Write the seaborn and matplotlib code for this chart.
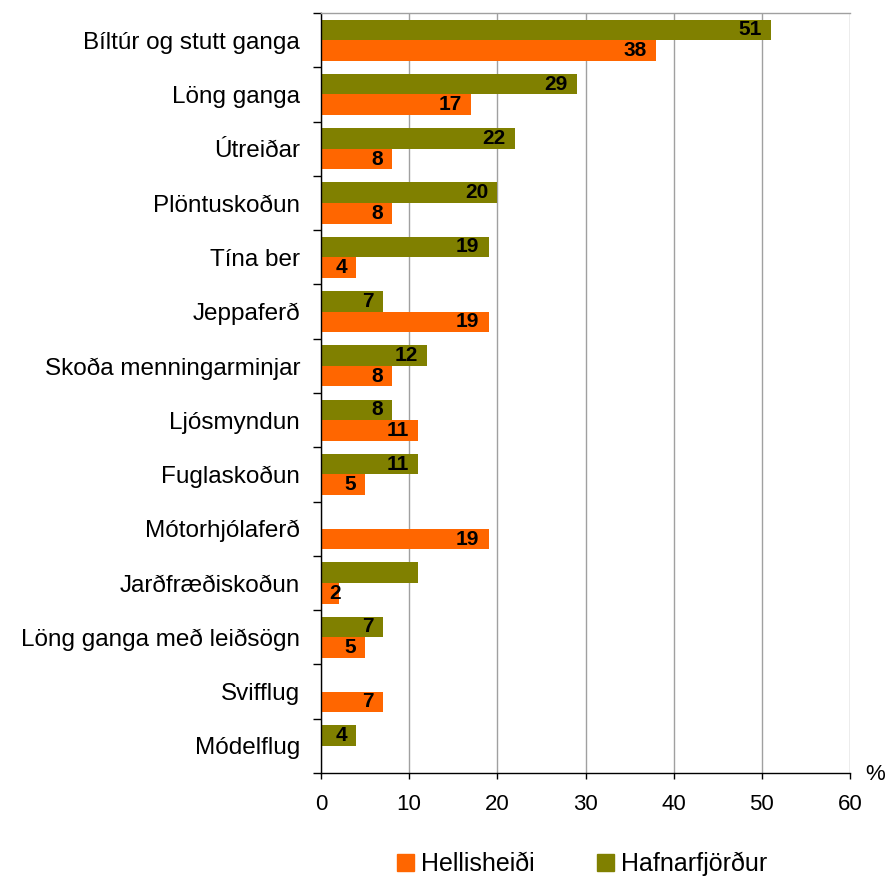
import matplotlib
matplotlib.use("Agg")
import matplotlib.pyplot as plt
import seaborn as sns
import pandas as pd
import numpy as np
from matplotlib.patches import Patch

categories = ["Bíltúr og stutt ganga", "Löng ganga", "Útreiðar", "Plöntuskoðun",
              "Tína ber", "Jeppaferð", "Skoða menningarminjar", "Ljósmyndun",
              "Fuglaskoðun", "Mótorhjólaferð", "Jarðfræðiskoðun",
              "Löng ganga með leiðsögn", "Svifflug", "Módelflug"]
hafnarfjordur = [51, 29, 22, 20, 19, 7, 12, 8, 11, 0, 11, 7, 0, 4]
hellisheidi = [38, 17, 8, 8, 4, 19, 8, 11, 5, 19, 2, 5, 7, 0]
hafn_label_shown = [True, True, True, True, True, True, True, True, True, False, False, True, False, True]
hell_label_shown = [True, True, True, True, True, True, True, True, True, True, True, True, True, False]
series = ["Hafnarfjörður", "Hellisheiði"]
colors = {"Hafnarfjörður": "#808000", "Hellisheiði": "#FF6600"}
xticks = [0, 10, 20, 30, 40, 50, 60]

sns.set_theme(style="white")
plt.rcParams['font.family'] = ['Liberation Sans', 'DejaVu Sans']
plt.rcParams['text.color'] = 'black'
plt.rcParams['xtick.color'] = 'black'
plt.rcParams['ytick.color'] = 'black'

df = pd.DataFrame({
    "cat": categories * 2,
    "series": ["Hafnarfjörður"] * len(categories) + ["Hellisheiði"] * len(categories),
    "val": hafnarfjordur + hellisheidi,
})

fig = plt.figure(figsize=(8.85, 8.77), dpi=100)
ax = fig.add_axes([321/885, 1 - 773/877, (850-321)/885, (773-13)/877])
sns.barplot(data=df, y="cat", x="val", hue="series", hue_order=series,
            palette=colors, orient="h", width=0.76, ax=ax, legend=False,
            saturation=1, order=categories, linewidth=0)

shown = {"Hafnarfjörður": hafn_label_shown, "Hellisheiði": hell_label_shown}
label_texts = []
for cont, s in zip(ax.containers, series):
    labels = [str(int(v)) if sh and v > 0 else "" for v, sh in zip(cont.datavalues, shown[s])]
    ts = ax.bar_label(cont, labels=labels, padding=-6.5, fontsize=15, fontweight="bold",
                      color="black")
    for t in ts:
        t.set_horizontalalignment("right")
        label_texts.append(t)

ax.set_xlim(0, 60)
ax.set_ylim(len(categories) - 0.5, -0.5)
ax.set_xticks(xticks)
ax.set_xticklabels([str(x) for x in xticks], fontsize=16, color="black")
ax.set_yticks(range(len(categories)))
ax.set_yticklabels(categories, fontsize=17.5, color="black")
ax.set_yticks(np.arange(-0.5, len(categories), 1), minor=True)
ax.tick_params(axis="y", which="major", length=0, pad=15)
ax.tick_params(axis="y", which="minor", length=5.5, width=1, color="black", direction="out", left=True)
ax.tick_params(axis="x", which="major", length=4, width=1, color="black", direction="out", bottom=True, pad=11)
ax.set_xlabel("")
ax.set_ylabel("")
ax.grid(axis="x", color="#a0a0a0", linewidth=1)
ax.set_axisbelow(True)
for sp in ["left", "bottom"]:
    ax.spines[sp].set_color("black")
    ax.spines[sp].set_linewidth(1)
ax.spines["right"].set_visible(False)
ax.spines["top"].set_color("#a0a0a0")
ax.spines["top"].set_linewidth(1)

fig.text(865/885, 1 - 775/877, "%", fontsize=16, ha="left", va="center")

handles = [Patch(color=colors["Hellisheiði"]), Patch(color=colors["Hafnarfjörður"])]
fig.legend(handles, ["Hellisheiði", "Hafnarfjörður"], loc="center",
           bbox_to_anchor=(582/885, 1 - 864/877), ncol=2, frameon=False, fontsize=18,
           handlelength=0.68, handleheight=0.68, handletextpad=0.28, columnspacing=2.5,
           borderpad=0, borderaxespad=0)

# keep labels on short bars from running past the axis (shift right like the original)
fig.canvas.draw()
renderer = fig.canvas.get_renderer()
axis_left_px = ax.get_window_extent(renderer).x0
for t in label_texts:
    if not t.get_text():
        continue
    bb = t.get_window_extent(renderer)
    min_left = axis_left_px + 8
    if bb.x0 < min_left:
        shift_pt = (min_left - bb.x0) * 72 / fig.dpi
        x_off, y_off = t.xyann
        t.xyann = (x_off + shift_pt, y_off)

fig.savefig("out.png", dpi=100)
